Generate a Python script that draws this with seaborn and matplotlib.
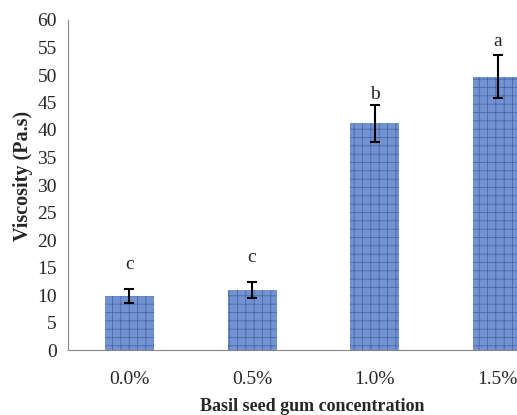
import matplotlib
matplotlib.use("Agg")
import matplotlib.pyplot as plt
import seaborn as sns
import pandas as pd
import numpy as np

categories = ["0.0%", "0.5%", "1.0%", "1.5%"]
viscosity = [9.8, 10.9, 41.2, 49.7]
errors = [1.3, 1.5, 3.3, 3.9]
letters = ["c", "c", "b", "a"]
letter_y = [15.5, 16.8, 46.5, 56.0]

sns.set_style("white")
plt.rcParams['font.family'] = ['Liberation Serif', 'DejaVu Serif']
plt.rcParams['hatch.linewidth'] = 0.6

df = pd.DataFrame({"conc": categories, "visc": viscosity})

fig = plt.figure(figsize=(5.17, 4.15), dpi=100)
ax = fig.add_axes([68/517, (415-350)/415, (559-68)/517, 330/415])

sns.barplot(data=df, x="conc", y="visc", ax=ax, color="#7393d0",
            width=0.4, saturation=1, errorbar=None)
for p in ax.patches:
    p.set_hatch("++")
    p.set_edgecolor("#4667ab")
    p.set_linewidth(0)

ax.errorbar(range(len(categories)), viscosity, yerr=errors, fmt="none",
            ecolor="black", elinewidth=1.5, capsize=3.5, capthick=1.5)

for i, (lt, ly) in enumerate(zip(letters, letter_y)):
    ax.text(i, ly, lt, ha="center", va="center", fontsize=14)

ax.set_xlim(-0.5, 3.5)
ax.set_ylim(0, 60)
ax.set_yticks(range(0, 61, 5))
ax.set_xticks(range(len(categories)))
ax.set_xticklabels(categories)
ax.set_xticks([-0.5, 0.5, 1.5, 2.5, 3.5], minor=True)
ax.tick_params(axis="x", which="major", length=0, pad=15, labelsize=14)
ax.tick_params(axis="x", which="minor", length=7, width=0.8, color="#888888", direction="out")
ax.tick_params(axis="y", length=5, width=0.8, color="#888888", direction="out", labelsize=14, pad=3)

for s in ["top", "right"]:
    ax.spines[s].set_visible(False)
for s in ["left", "bottom"]:
    ax.spines[s].set_color("#888888")
    ax.spines[s].set_linewidth(0.8)

ax.set_xlabel("")
ax.set_ylabel("")
fig.text(312/517, 1 - 406/415, "Basil seed gum concentration", fontsize=13,
         fontweight="bold", ha="center", va="center")
fig.text(23/517, 1 - 176/415, "Viscosity (Pa.s)", fontsize=14.5,
         fontweight="bold", ha="center", va="center", rotation=90)

fig.savefig("out.png", dpi=100)
